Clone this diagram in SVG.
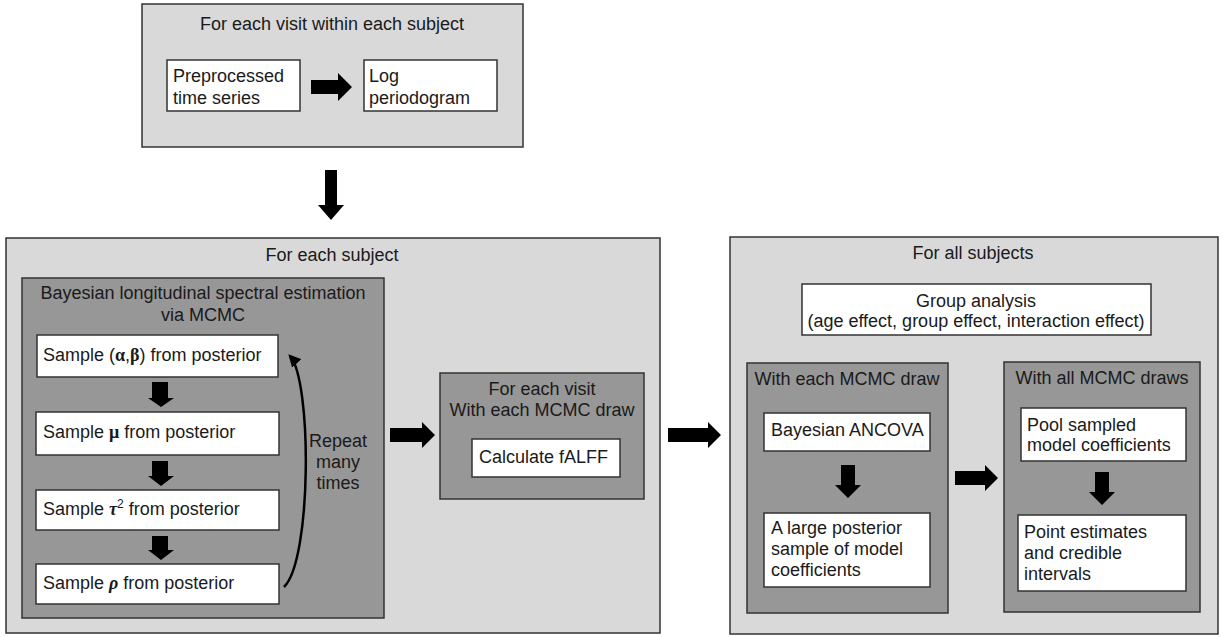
<svg xmlns="http://www.w3.org/2000/svg" width="1228" height="637" viewBox="0 0 1228 637">
<style>
.outer{fill:#d9d9d9;stroke:#333;stroke-width:1.5}
.inner{fill:#979797;stroke:#333;stroke-width:1.5}
.box{fill:#fff;stroke:#333;stroke-width:1.5}
text{font-family:"Liberation Sans",Arial,sans-serif;font-size:18px;fill:#1a1a1a}
.c{text-anchor:middle}
.g{font-family:"Liberation Serif","Times New Roman",serif;font-weight:bold}
.gi{font-family:"Liberation Serif","Times New Roman",serif;font-weight:bold;font-style:italic}
.arr{fill:#000}
</style>
<defs>
<marker id="head" viewBox="0 0 10 10" refX="8" refY="5" markerWidth="5" markerHeight="5" orient="auto">
<path d="M0,0 L10,5 L0,10 z" fill="#000"/>
</marker>
</defs>

<g id="visit-within-subject">
<rect class="outer" x="142" y="4" width="381" height="143"/>
<text class="c" x="332" y="30">For each visit within each subject</text>
</g>
<g id="preprocessed">
<rect class="box" x="167" y="60" width="133" height="51"/>
<text x="173" y="82">Preprocessed</text>
<text x="173" y="104">time series</text>
</g>
<g id="log-periodogram">
<rect class="box" x="364" y="60" width="133" height="51"/>
<text x="369" y="82">Log</text>
<text x="369" y="104">periodogram</text>
</g>

<g id="for-each-subject">
<rect class="outer" x="6" y="238" width="654" height="395"/>
<text class="c" x="332" y="261">For each subject</text>
</g>
<g id="bayesian-spectral">
<rect class="inner" x="22" y="278" width="362" height="340"/>
<text class="c" x="203" y="299">Bayesian longitudinal spectral estimation</text>
<text class="c" x="203" y="321">via MCMC</text>
</g>
<g id="sample-ab">
<rect class="box" x="37" y="335" width="241" height="42"/>
<text x="43" y="361">Sample (<tspan class="g">α</tspan>,<tspan class="g">β</tspan>) from posterior</text>
</g>
<g id="sample-mu">
<rect class="box" x="36" y="412" width="243" height="43"/>
<text x="43" y="438">Sample <tspan class="g">μ</tspan> from posterior</text>
</g>
<g id="sample-tau">
<rect class="box" x="36" y="490" width="243" height="40"/>
<text x="43" y="515">Sample <tspan class="gi">τ</tspan><tspan font-size="12" dy="-7">2</tspan><tspan dy="7"> from posterior</tspan></text>
</g>
<g id="sample-rho">
<rect class="box" x="36" y="564" width="243" height="40"/>
<text x="43" y="589">Sample <tspan class="gi">ρ</tspan> from posterior</text>
</g>
<g id="repeat-label">
<text class="c" x="338" y="447">Repeat</text>
<text class="c" x="338" y="468">many</text>
<text class="c" x="338" y="489">times</text>
</g>

<g id="for-each-visit">
<rect class="inner" x="440" y="373" width="204" height="126"/>
<text class="c" x="542" y="395">For each visit</text>
<text class="c" x="542" y="416">With each MCMC draw</text>
</g>
<g id="calculate-falff">
<rect class="box" x="472" y="439" width="148" height="38"/>
<text x="479" y="463">Calculate fALFF</text>
</g>

<g id="for-all-subjects">
<rect class="outer" x="730" y="237" width="488" height="397"/>
<text class="c" x="973" y="259">For all subjects</text>
</g>
<g id="group-analysis">
<rect class="box" x="802" y="284" width="349" height="51"/>
<text class="c" x="976" y="307">Group analysis</text>
<text class="c" x="976" y="327">(age effect, group effect, interaction effect)</text>
</g>
<g id="each-mcmc-draw">
<rect class="inner" x="747" y="363" width="201" height="250"/>
<text class="c" x="847" y="385">With each MCMC draw</text>
</g>
<g id="bayesian-ancova">
<rect class="box" x="764" y="413" width="166" height="38"/>
<text x="771" y="436">Bayesian ANCOVA</text>
</g>
<g id="large-posterior">
<rect class="box" x="764" y="513" width="166" height="74"/>
<text x="771" y="534">A large posterior</text>
<text x="771" y="555">sample of model</text>
<text x="771" y="576">coefficients</text>
</g>
<g id="all-mcmc-draws">
<rect class="inner" x="1004" y="362" width="196" height="250"/>
<text class="c" x="1102" y="384">With all MCMC draws</text>
</g>
<g id="pool">
<rect class="box" x="1021" y="408" width="165" height="53"/>
<text x="1027" y="431">Pool sampled</text>
<text x="1027" y="451">model coefficients</text>
</g>
<g id="point-estimates">
<rect class="box" x="1018" y="515" width="168" height="76"/>
<text x="1024" y="538">Point estimates</text>
<text x="1024" y="559">and credible</text>
<text x="1024" y="580">intervals</text>
</g>

<g id="connectors">
<polygon class="arr" points="311,80 338,80 338,73 352,87 338,101 338,94 311,94"/>
<polygon class="arr" points="325,170 337,170 337,205 344,205 331,220 318,205 325,205"/>
<polygon class="arr" points="152,382 168,382 168,398 174,398 161,407 148,398 152,398"/>
<polygon class="arr" points="152,461 168,461 168,476 174,476 161,486 148,476 152,476"/>
<polygon class="arr" points="152,536 168,536 168,550 174,550 161,560 148,550 152,550"/>
<path d="M284,587 C312,560 312,380 290,356" fill="none" stroke="#000" stroke-width="2.5" marker-end="url(#head)"/>
<polygon class="arr" points="390,428 422,428 422,422 435,435 422,448 422,442 390,442"/>
<polygon class="arr" points="668,428 708,428 708,422 721,435 708,448 708,442 668,442"/>
<polygon class="arr" points="841,465 855,465 855,485 861,485 848,498 835,485 841,485"/>
<polygon class="arr" points="955,471 985,471 985,465 998,478 985,491 985,485 955,485"/>
<polygon class="arr" points="1095,472 1109,472 1109,492 1115,492 1102,505 1089,492 1095,492"/>
</g>
</svg>
